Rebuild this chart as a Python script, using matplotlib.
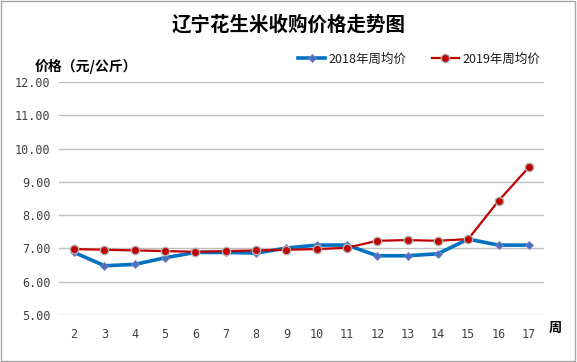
import matplotlib
matplotlib.use("Agg")
import matplotlib.pyplot as plt
from matplotlib.patches import Rectangle

plt.rcParams['font.family'] = ['Noto Sans CJK SC', 'DejaVu Sans']

weeks = [2, 3, 4, 5, 6, 7, 8, 9, 10, 11, 12, 13, 14, 15, 16, 17]
price_2018 = [6.88, 6.48, 6.52, 6.72, 6.88, 6.88, 6.86, 7.01, 7.10, 7.10, 6.78, 6.78, 6.84, 7.28, 7.10, 7.10]
price_2019 = [6.98, 6.96, 6.94, 6.92, 6.90, 6.92, 6.94, 6.96, 6.98, 7.02, 7.23, 7.25, 7.23, 7.28, 8.43, 9.44]
yticks = [5, 6, 7, 8, 9, 10, 11, 12]

fig = plt.figure(figsize=(5.77, 3.62), dpi=100)
fig.patches.append(Rectangle((0.002, 0.003), 0.995, 0.994, transform=fig.transFigure,
                             fill=False, edgecolor='#a6a6a6', linewidth=1.0))
ax = fig.add_axes([59/577, 1-315/362, (544-59)/577, (315-82)/362])

x = list(range(len(weeks)))
ax.plot(x, price_2018, color='#0070C0', linewidth=2.6, marker='D', markersize=4.2,
        markerfacecolor='#4472C4', markeredgecolor='#8080c0', markeredgewidth=0.6,
        label='2018年周均价', zorder=3)
ax.plot(x, price_2019, color='#C00000', linewidth=1.6, marker='o', markersize=6,
        markerfacecolor='#C00000', markeredgecolor='#b0b0b0', markeredgewidth=1.0,
        label='2019年周均价', zorder=4)

ax.set_xlim(-0.5, len(weeks) - 0.5)
ax.set_ylim(5, 12)
ax.set_yticks(yticks)
ax.set_yticklabels([f'{v:.2f}' for v in yticks])
ax.set_xticks(x)
ax.set_xticklabels([str(w) for w in weeks])
ax.grid(axis='y', color='#bfbfbf', linewidth=1.0)
ax.set_axisbelow(True)
for s in ax.spines.values():
    s.set_visible(False)
ax.tick_params(axis='both', length=0, labelsize=8.5, colors='#404040', pad=9)
ax.tick_params(axis='y', pad=6)
for lab in ax.get_xticklabels() + ax.get_yticklabels():
    lab.set_family(['DejaVu Sans Mono'])

fig.text(289/577, 1-25/362, '辽宁花生米收购价格走势图', ha='center', va='center',
         fontsize=14, fontweight='bold', color='#000000')
fig.text(35/577, 1-66/362, '价格（元/公斤）', ha='left', va='center',
         fontsize=10, fontweight='bold', color='#000000')
fig.text(555/577, 1-328/362, '周', ha='center', va='center',
         fontsize=9.5, fontweight='bold', color='#000000')

leg = fig.legend(handles=ax.get_lines(), loc='center right',
                 bbox_to_anchor=(540/577, 1-59/362), ncol=2, frameon=False,
                 fontsize=9, handlelength=2.2, columnspacing=2.0, handletextpad=0.25,
                 borderaxespad=0, borderpad=0)
for t in leg.get_texts():
    t.set_color('#1a1a1a')

fig.savefig('out.png', dpi=100)
